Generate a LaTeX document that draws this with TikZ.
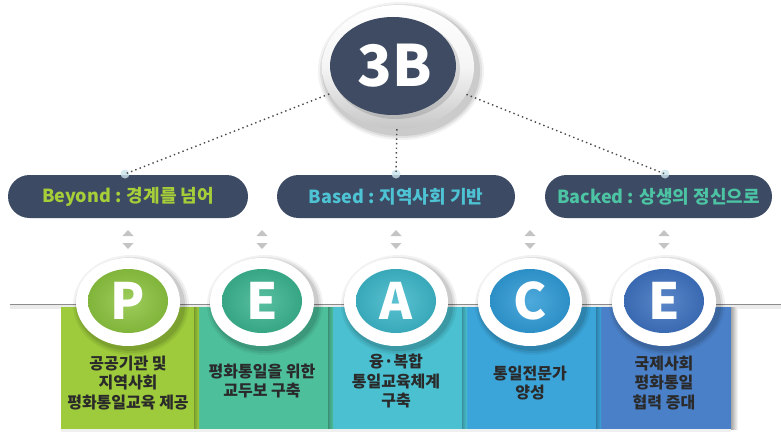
\documentclass[tikz,border=0pt]{standalone}
\usepackage{fontspec}
\setmainfont{Noto Sans CJK KR}
\usetikzlibrary{calc,shapes.geometric}
\definecolor{slate}{HTML}{3D4A63}
\definecolor{topdark}{HTML}{3E4B62}
\definecolor{tBeyond}{HTML}{A6CE39}
\definecolor{tBased}{HTML}{4DC3D4}
\definecolor{tBacked}{HTML}{4CC4A4}
\definecolor{colA}{HTML}{9DCB3C}
\definecolor{cirA}{HTML}{8CC43F}
\definecolor{colB}{HTML}{4DBF9B}
\definecolor{cirB}{HTML}{3BB48F}
\definecolor{colC}{HTML}{4AC0D0}
\definecolor{cirC}{HTML}{3DB7C9}
\definecolor{colD}{HTML}{3BA5DA}
\definecolor{cirD}{HTML}{2F9BD6}
\definecolor{colE}{HTML}{4A80C8}
\definecolor{cirE}{HTML}{3E72C0}
\definecolor{coltxt}{HTML}{2A2A2A}
\definecolor{arrowgray}{HTML}{C4C4C4}
\definecolor{dotcol}{HTML}{4A4A4A}
\definecolor{glow}{HTML}{C9E3EC}
\tikzset{
  pill/.style={fill=slate, rounded corners=21.5pt, minimum height=43pt, inner sep=0pt,
    font=\fontsize{18}{20}\selectfont\bfseries},
  dotline/.style={draw=dotcol, line width=1.4pt, dash pattern=on 1.4pt off 3.2pt},
  coltext/.style={align=center, text=coltxt, font=\fontsize{16}{19.5}\selectfont\bfseries, inner sep=0pt},
  letter/.style={text=white, font=\fontsize{50}{50}\selectfont\bfseries, inner sep=0pt},
  ringnode/.style={ellipse, minimum width=104pt, minimum height=88pt, inner sep=0pt},
}
\begin{document}
\begin{tikzpicture}[x=1pt,y=-1pt]
\useasboundingbox (0,0) rectangle (781,433);
\fill[white] (0,0) rectangle (781,433);

% ---- top 3B button
\foreach \o/\s in {7/0.05,5/0.07,3/0.09}
  \fill[black,opacity=\s] (401,71) ellipse [x radius=76+\o, y radius=62+\o];
\shade[shading angle=135, top color=white, bottom color=black!22, middle color=black!4]
  (398,67) ellipse [x radius=76, y radius=62];
\node[ellipse, minimum width=152pt, minimum height=124pt, inner sep=0pt] (top) at (398,67) {};
\fill[black,opacity=0.12] (396,69) ellipse [x radius=64, y radius=50];
\fill[topdark] (393,66) ellipse [x radius=63, y radius=49];
\node[text=white, font=\fontsize{57}{57}\selectfont\bfseries, inner sep=0pt] (t3b) at (395,66) {3B};

% ---- pills
\node[pill, minimum width=240pt, text=tBeyond] (pB) at (128,196.5) {Beyond : 경계를 넘어};
\node[pill, minimum width=238pt, text=tBased] (pM) at (396,196.5) {Based : 지역사회 기반};
\node[pill, minimum width=227pt, text=tBacked] (pR) at (658.5,196.5) {Backed : 상생의 정신으로};

\coordinate (dL) at (125,174);
\coordinate (dM) at (396,174);
\coordinate (dR) at (665,174);
\foreach \c in {dL,dM,dR}{
  \fill[glow,opacity=0.8] (\c) circle (4.5);
}
\draw[dotline] (top) -- (dL);
\draw[dotline] (top) -- (dM);
\draw[dotline] (top) -- (dR);

% ---- small up/down arrows
\foreach \x in {128,262,396,530,664}{
  \fill[arrowgray] (\x-5.5,236) -- (\x+5.5,236) -- (\x,230) -- cycle;
  \fill[arrowgray] (\x-5.5,243) -- (\x+5.5,243) -- (\x,249) -- cycle;
}

% ---- base line
\fill[black!8] (10,305) rectangle (781,309);
\draw[black!45, line width=1.4pt] (10,304.5) -- (781,304.5);

% ---- columns
\foreach \x/\col in {128/colA,262/colB,396/colC,530/colD,664/colE}{
  \fill[\col] (\x-67,307) rectangle (\x+67,429);
}
\foreach \x/\col in {128/colA,262/colB,396/colC,530/colD}{
  \fill[\col!75!black] (\x+66,307) rectangle (\x+67.5,429);
  \shade[left color=\col!85!black, right color=\col] (\x+67.5,307) rectangle (\x+71,429);
}
\shade[left color=black!35, right color=white] (731,307) rectangle (738,429);
\fill[black!6] (61,429) rectangle (731,432);

% ---- rings and letters
\foreach \x/\cir/\L/\n in {128/cirA/P/1,262/cirB/E/2,396/cirC/A/3,530/cirD/C/4,664/cirE/E/5}{
  \foreach \o/\s in {6/0.05,4/0.07,2/0.09}
    \fill[black,opacity=\s] (\x+3,305) ellipse [x radius=52+\o, y radius=44+\o];
  \fill[white] (\x,302) ellipse [x radius=52, y radius=44];
  \node[ringnode] (r\n) at (\x,302) {};
  \shade[inner color=\cir!85!white, outer color=\cir!92!black] (\x,301) ellipse [x radius=40, y radius=32];
  \node[letter] (l\n) at (\x,301) {\L};
}

% ---- column texts
\node[coltext] (x1) at (128,383) {공공기관 및\\지역사회\\평화통일교육 제공};
\node[coltext] (x2) at (262,381) {평화통일을 위한\\교두보 구축};
\node[coltext] (x3) at (396,381) {융·복합\\통일교육체계\\구축};
\node[coltext] (x4) at (530,383) {통일전문가\\양성};
\node[coltext] (x5) at (664,383) {국제사회\\평화통일\\협력 증대};
\end{tikzpicture}
\end{document}
